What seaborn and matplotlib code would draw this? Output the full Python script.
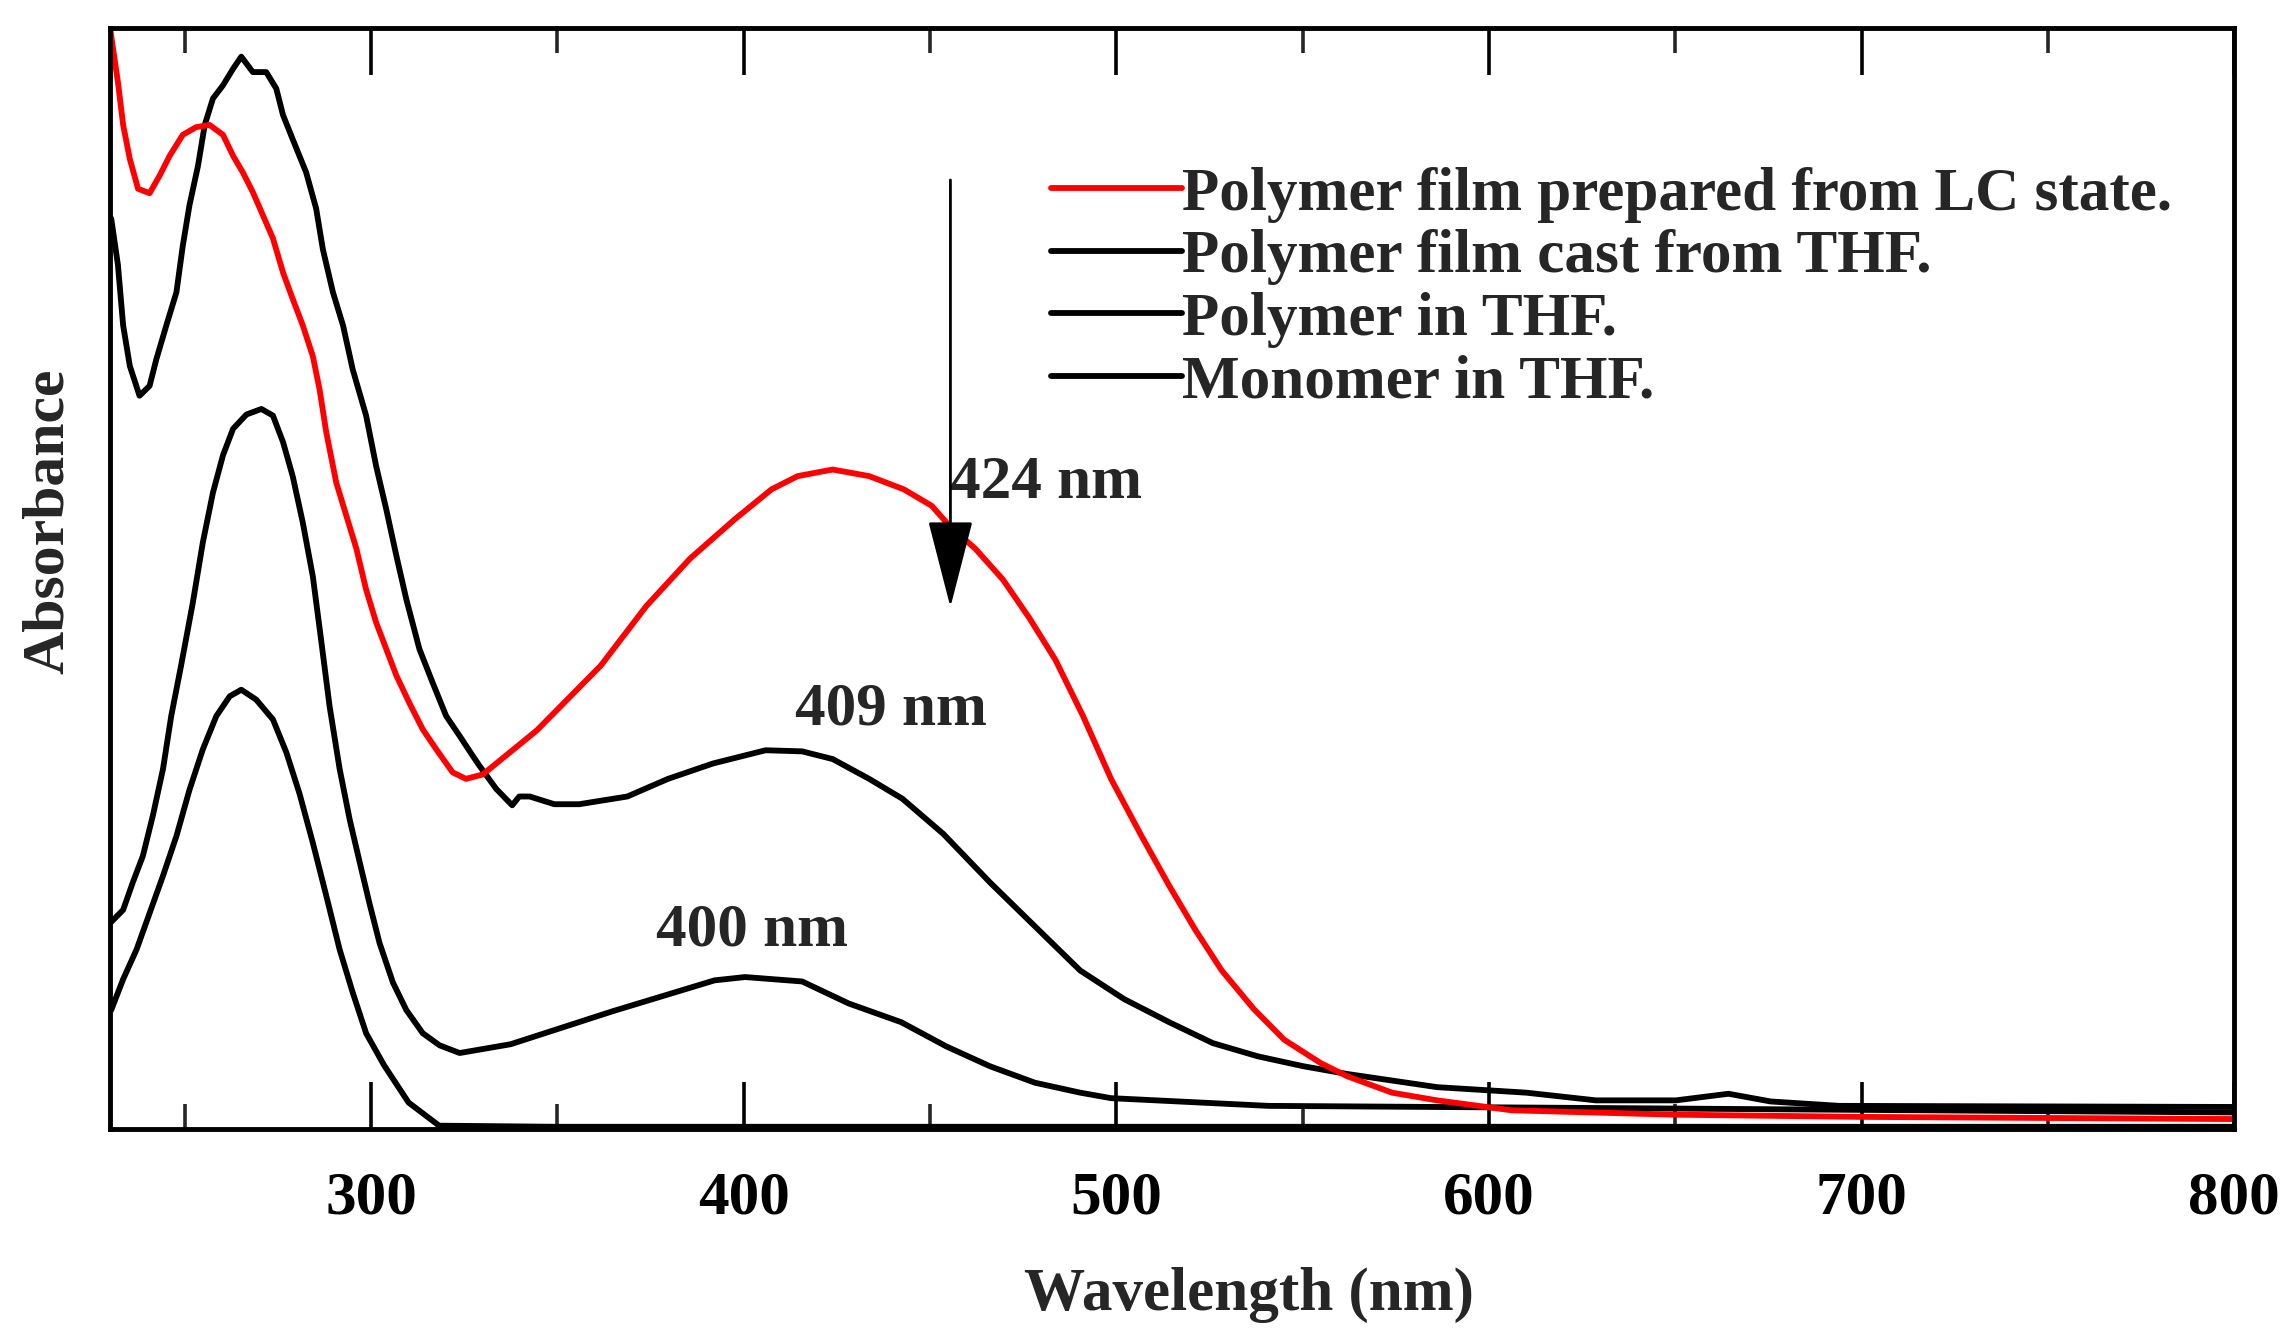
import numpy as np
import pandas as pd
import matplotlib
matplotlib.use("Agg")
import matplotlib.pyplot as plt
import seaborn as sns
from matplotlib.ticker import MultipleLocator

# ---------------- data ----------------
lc_x = [230.0, 232.1, 233.5, 235.3, 237.5, 240.6, 243.3, 246.0, 249.5, 253.1, 256.7, 260.3,
        263.0, 265.6, 268.3, 271.0, 273.7, 276.4, 279.0, 281.7, 284.4, 286.2, 288.0, 290.7,
        293.4, 296.1, 298.7, 301.4, 304.1, 306.8, 310.3, 313.9, 317.5, 321.9, 325.5, 330.0,
        344.5, 361.7, 373.9, 385.6, 397.7, 407.5, 414.5, 423.9, 433.7, 443.0, 450.5, 455.2,
        462.2, 469.6, 476.7, 483.7, 491.1, 498.6, 506.8, 514.2, 521.2, 528.3, 536.9, 545.1,
        554.8, 561.9, 574.0, 586.1, 606.0, 650.0, 700.0, 800.0]
lc_y = [1.000, 0.951, 0.912, 0.881, 0.854, 0.850, 0.866, 0.884, 0.903, 0.910, 0.912, 0.903,
        0.884, 0.869, 0.851, 0.830, 0.809, 0.778, 0.754, 0.730, 0.702, 0.672, 0.633, 0.587,
        0.557, 0.527, 0.490, 0.460, 0.436, 0.412, 0.387, 0.363, 0.345, 0.324, 0.318, 0.322,
        0.362, 0.421, 0.475, 0.518, 0.554, 0.581, 0.593, 0.599, 0.593, 0.581, 0.566, 0.548,
        0.527, 0.499, 0.464, 0.426, 0.375, 0.318, 0.266, 0.221, 0.181, 0.144, 0.109, 0.081,
        0.060, 0.048, 0.033, 0.026, 0.017, 0.013, 0.011, 0.009]

cast_x = [230.3, 232.1, 233.5, 235.3, 237.9, 240.6, 242.4, 245.1, 247.8, 249.5, 251.3, 253.6,
          255.4, 257.6, 260.3, 263.0, 265.2, 268.3, 271.9, 274.6, 276.4, 279.0, 282.6, 285.3,
          287.1, 289.8, 292.5, 295.1, 298.7, 301.4, 304.1, 306.8, 309.5, 313.0, 316.6, 320.2,
          323.8, 327.3, 329.1, 333.6, 337.9, 339.8, 342.6, 349.2, 355.9, 368.8, 379.7, 391.8,
          405.9, 415.7, 423.9, 433.7, 442.6, 453.6, 466.1, 478.2, 490.3, 502.1, 514.2, 525.9,
          538.0, 550.2, 561.9, 586.1, 610.0, 628.7, 650.2, 664.3, 675.6, 694.0, 800.0]
cast_y = [0.827, 0.785, 0.730, 0.693, 0.666, 0.675, 0.699, 0.730, 0.760, 0.802, 0.839, 0.875,
          0.912, 0.936, 0.948, 0.963, 0.974, 0.960, 0.960, 0.945, 0.921, 0.899, 0.869, 0.836,
          0.799, 0.760, 0.730, 0.690, 0.648, 0.602, 0.563, 0.521, 0.481, 0.436, 0.405, 0.375,
          0.357, 0.339, 0.330, 0.309, 0.294, 0.302, 0.302, 0.295, 0.295, 0.302, 0.318, 0.332,
          0.344, 0.343, 0.336, 0.318, 0.300, 0.268, 0.224, 0.184, 0.144, 0.118, 0.097, 0.078,
          0.066, 0.057, 0.050, 0.038, 0.033, 0.026, 0.026, 0.032, 0.025, 0.021, 0.020]

sol_x = [230.0, 233.5, 236.1, 238.8, 241.5, 244.2, 246.4, 249.0, 252.2, 254.9, 257.6, 260.3,
         263.0, 266.6, 270.6, 273.7, 276.4, 279.0, 281.7, 284.4, 286.6, 288.9, 291.6, 294.3,
         297.0, 299.6, 302.3, 305.9, 309.5, 313.9, 318.4, 323.8, 337.5, 364.9, 392.2, 400.4,
         415.7, 428.2, 442.3, 454.4, 466.1, 478.2, 490.3, 498.6, 540.8, 630.7, 800.0]
sol_y = [0.187, 0.199, 0.224, 0.248, 0.285, 0.327, 0.375, 0.420, 0.478, 0.533, 0.578, 0.612,
         0.636, 0.649, 0.654, 0.648, 0.624, 0.593, 0.551, 0.502, 0.445, 0.384, 0.327, 0.281,
         0.242, 0.205, 0.169, 0.133, 0.108, 0.087, 0.076, 0.069, 0.077, 0.107, 0.135, 0.138,
         0.134, 0.114, 0.097, 0.075, 0.057, 0.042, 0.033, 0.028, 0.021, 0.019, 0.015]

mono_x = [230.3, 233.5, 237.1, 240.6, 244.2, 247.8, 251.3, 254.9, 258.5, 262.1, 265.2, 269.2,
          273.7, 277.3, 280.8, 284.4, 288.0, 291.6, 295.1, 298.7, 303.5, 310.1, 318.3, 350.0,
          500.0, 800.0]
mono_y = [0.108, 0.136, 0.163, 0.196, 0.230, 0.266, 0.308, 0.345, 0.375, 0.393, 0.399, 0.390,
          0.372, 0.342, 0.305, 0.260, 0.212, 0.163, 0.124, 0.087, 0.058, 0.024, 0.003, 0.002,
          0.002, 0.002]

labels = ["Polymer film prepared from LC state.", "Polymer film cast from THF.",
          "Polymer in THF.", "Monomer in THF."]
peak_labels = ["424 nm", "409 nm", "400 nm"]
x_ticks = [300, 400, 500, 600, 700, 800]

# ---------------- style ----------------
sns.set_style("white")
plt.rcParams["font.family"] = ["Liberation Serif", "DejaVu Serif"]
plt.rcParams["font.weight"] = "bold"

fig = plt.figure(figsize=(22.84, 13.29), dpi=100)
ax = fig.add_axes([0.0482, 0.1505, 0.930, 0.8284])

series = [(lc_x, lc_y, "#ff0000", labels[0]),
          (cast_x, cast_y, "black", labels[1]),
          (sol_x, sol_y, "black", labels[2]),
          (mono_x, mono_y, "black", labels[3])]
for xs, ys, col, lab in reversed(series):
    df = pd.DataFrame({"x": xs, "y": ys})
    sns.lineplot(data=df, x="x", y="y", ax=ax, color=col, linewidth=4.2, sort=False,
                 estimator=None, label=lab)

line_map = {l.get_label(): l for l in ax.get_lines()}
handles = [line_map[l] for l in labels]

ax.set_xlim(230, 800)
ax.set_ylim(0, 1)

for s in ax.spines.values():
    s.set_visible(True)
    s.set_linewidth(3.5)
    s.set_color("black")

ax.set_xticks(x_ticks)
ax.xaxis.set_minor_locator(MultipleLocator(50))
ax.tick_params(axis="x", which="major", direction="in", length=34, width=2.6,
               top=True, bottom=True, labelsize=44, pad=30, colors="black")
ax.tick_params(axis="x", which="minor", direction="in", length=18, width=2.6,
               top=True, bottom=True)
ax.set_yticks([])
for t in ax.get_xticklabels():
    t.set_fontweight("bold")

ax.set_xlabel("Wavelength (nm)", fontsize=44, fontweight="bold")
ax.xaxis.set_label_coords(0.536, -0.151)
ax.xaxis.label.set_va("center")
ax.set_ylabel("Absorbance", fontsize=43, fontweight="bold")
ax.yaxis.set_label_coords(-0.029, 0.552)
ax.yaxis.label.set_va("center")

ax.text(455.5, 0.587, peak_labels[0], fontsize=44, fontweight="bold", ha="left", va="center")
ax.text(413.7, 0.381, peak_labels[1], fontsize=44, fontweight="bold", ha="left", va="center")
ax.text(376.6, 0.180, peak_labels[2], fontsize=44, fontweight="bold", ha="left", va="center")

ax.annotate("", xy=(455.5, 0.474), xytext=(455.5, 0.862),
            arrowprops=dict(arrowstyle="-|>,head_length=1.4,head_width=0.36",
                            mutation_scale=40, lw=2.0, color="black",
                            shrinkA=0, shrinkB=0))

ax.legend(handles, labels, loc="upper left", bbox_to_anchor=(0.443, 0.874),
          frameon=False, handlelength=2.15, handletextpad=0.0,
          labelspacing=0.105, borderpad=0, borderaxespad=0,
          prop={"weight": "bold", "size": 44})

fig.savefig("out.png", dpi=100)
